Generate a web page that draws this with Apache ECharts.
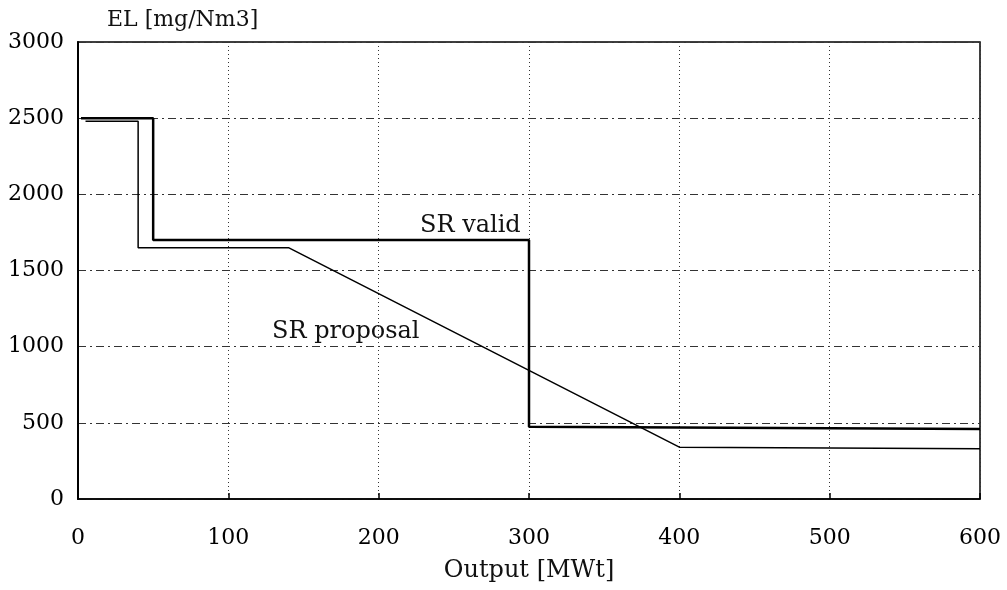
<!DOCTYPE html>
<html>
<head>
<meta charset="utf-8">
<script src="https://cdn.jsdelivr.net/npm/echarts@6/dist/echarts.min.js"></script>
<style>html,body{margin:0;padding:0;background:#fff}#c{width:1007px;height:590px}</style>
</head>
<body>
<div id="c"></div>
<script>
const xTicks = [0, 100, 200, 300, 400, 500, 600];
const yTicks = [0, 500, 1000, 1500, 2000, 2500, 3000];
const validX = [2, 50, 50, 300, 300, 600];
const validY = [2500, 2500, 1700, 1700, 475, 460];
const proposalX = [5, 40, 40, 140, 400, 600];
const proposalY = [2480, 2480, 1650, 1650, 340, 330];
const yAxisTitle = 'EL [mg/Nm3]';
const xAxisTitle = 'Output [MWt]';
const validLabel = 'SR valid';
const proposalLabel = 'SR proposal';

const font = 'DejaVu Serif';
const chart = echarts.init(document.getElementById('c'));
chart.setOption({
  animation: false,
  backgroundColor: '#fff',
  grid: {left: 78, right: 27, top: 42, bottom: 91, show: true, borderColor: '#000', borderWidth: 1.5, backgroundColor: 'transparent'},
  xAxis: {
    type: 'value', min: xTicks[0], max: xTicks[xTicks.length - 1], interval: 100,
    name: xAxisTitle, nameLocation: 'middle', nameGap: 60,
    nameTextStyle: {fontFamily: font, fontSize: 24, color: '#111'},
    axisLine: {show: true, lineStyle: {color: '#000', width: 1.5}},
    axisTick: {show: true, inside: true, length: 6, lineStyle: {color: '#000', width: 1.5}},
    axisLabel: {fontFamily: font, fontSize: 22, color: '#000', margin: 28, formatter: v => String(v)},
    splitLine: {show: true, lineStyle: {color: '#333', width: 1, type: [1, 3]}}
  },
  yAxis: {
    type: 'value', min: yTicks[0], max: yTicks[yTicks.length - 1], interval: 500,
    axisLine: {show: true, lineStyle: {color: '#000', width: 2}},
    axisTick: {show: false},
    axisLabel: {fontFamily: font, fontSize: 22, color: '#000', margin: 14, formatter: v => String(v)},
    splitLine: {show: true, lineStyle: {color: '#333', width: 1, type: [8, 4, 2, 4]}}
  },
  graphic: [
    {type: 'text', left: 107, top: 9, style: {text: yAxisTitle, font: '22px "DejaVu Serif"', fill: '#111'}},
    {type: 'text', left: 420, top: 214, style: {text: validLabel, font: '24px "DejaVu Serif"', fill: '#111'}},
    {type: 'text', left: 272, top: 320, style: {text: proposalLabel, font: '24px "DejaVu Serif"', fill: '#111'}}
  ],
  series: [
    {type: 'line', data: validX.map((x, i) => [x, validY[i]]), symbol: 'none', lineStyle: {color: '#000', width: 2.5}},
    {type: 'line', data: proposalX.map((x, i) => [x, proposalY[i]]), symbol: 'none', lineStyle: {color: '#000', width: 1.5}}
  ]
});
</script>
</body>
</html>
